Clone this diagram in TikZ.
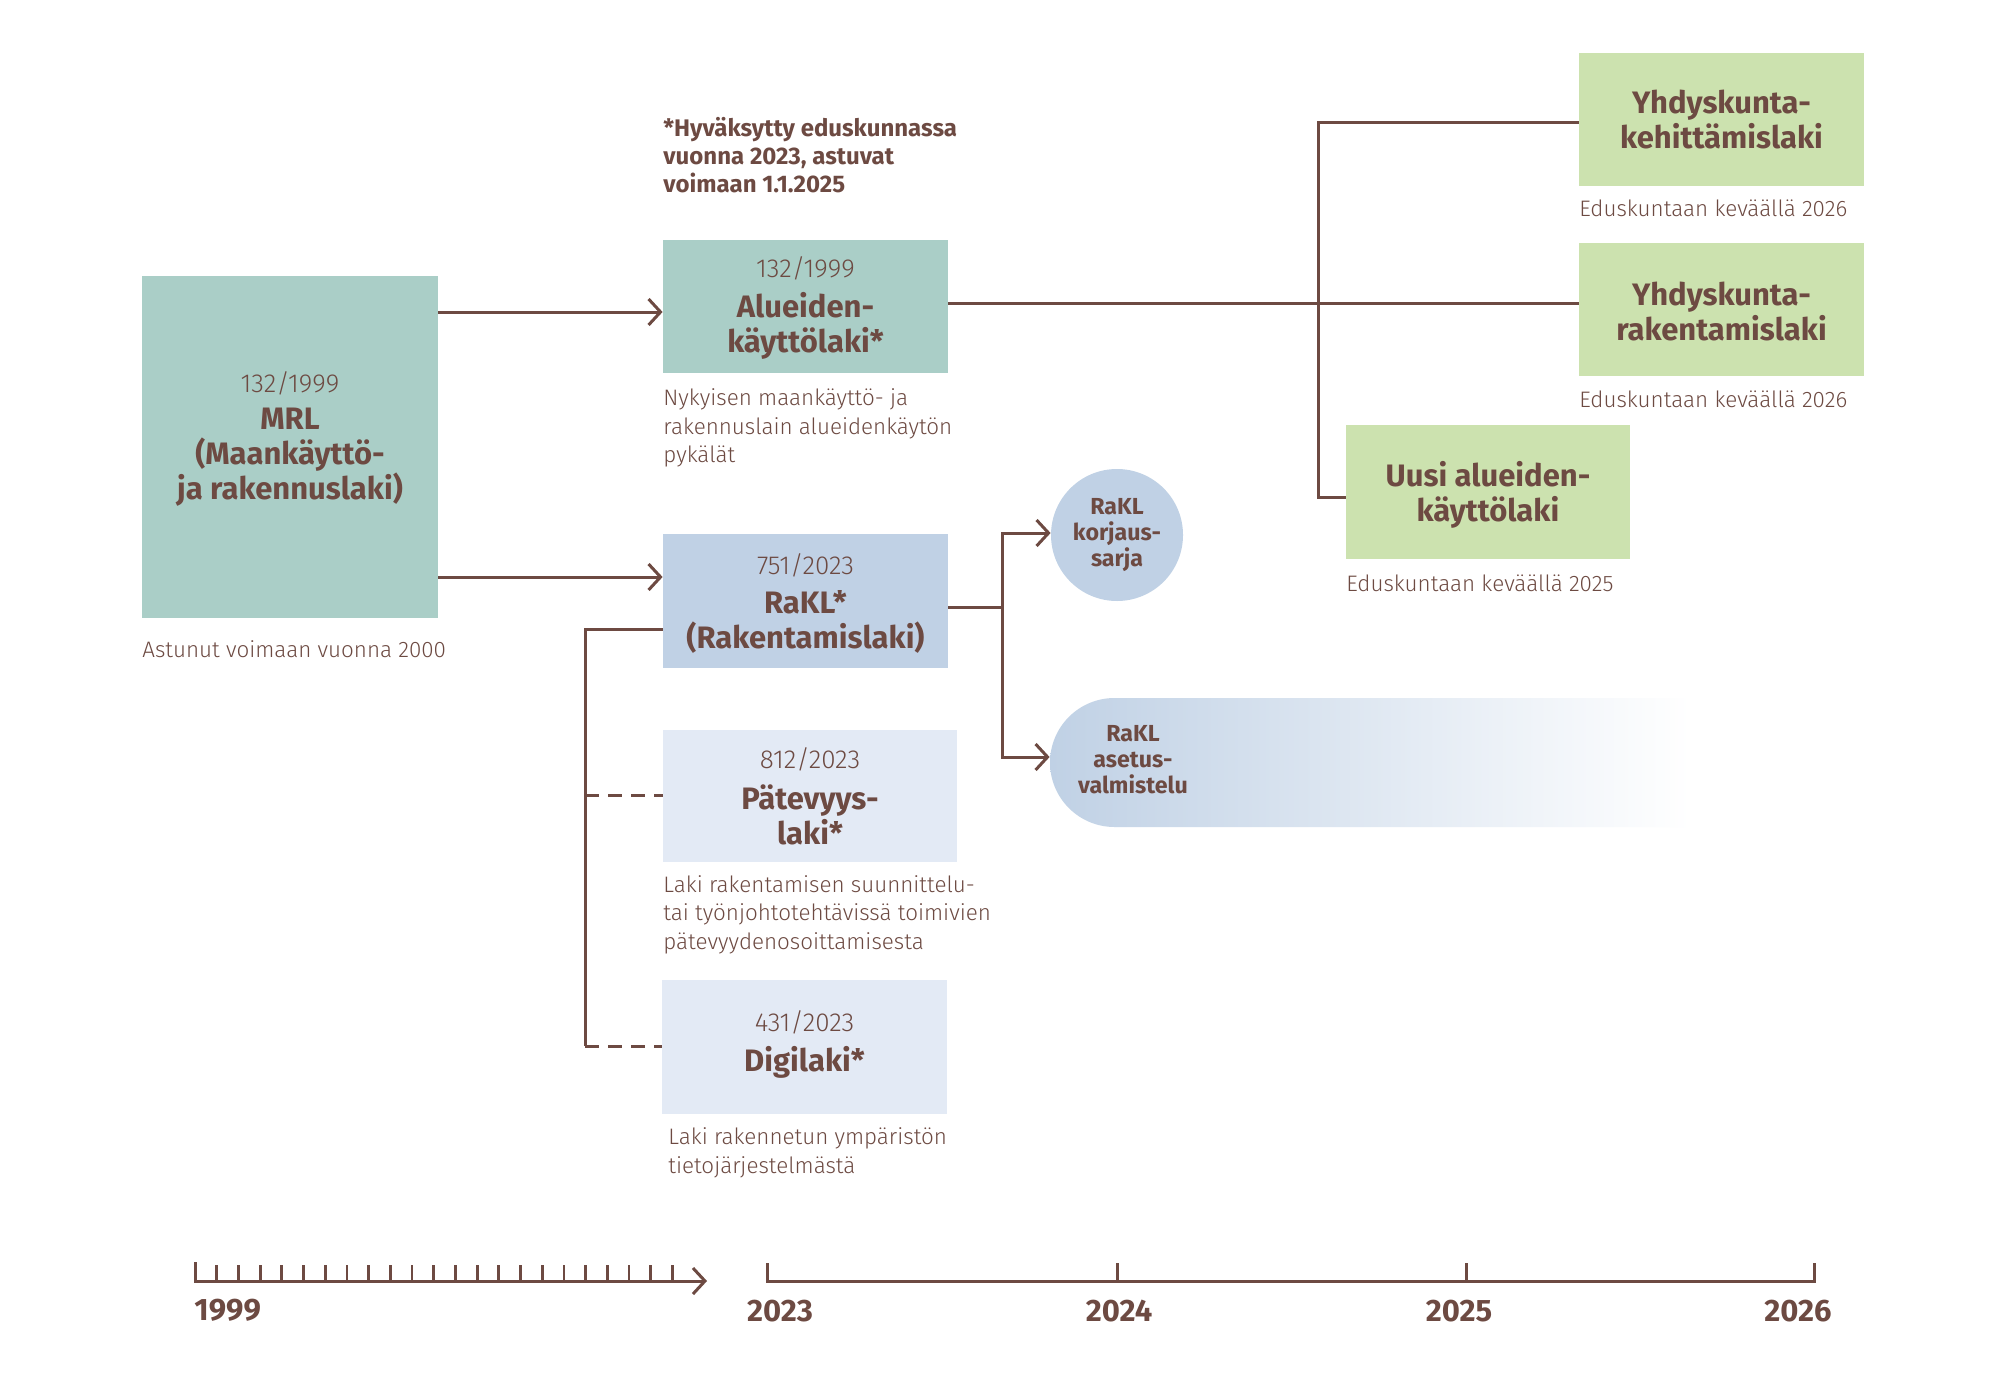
\documentclass[tikz,border=0pt]{standalone}
\usepackage{fontspec}
\setmainfont{Fira Sans}
\newfontfamily\lightfont{Fira Sans Light}
\usetikzlibrary{arrows.meta,shapes.misc}
\definecolor{brownA}{HTML}{6D4A42}
\definecolor{tealA}{HTML}{AACEC7}
\definecolor{blueA}{HTML}{C0D1E5}
\definecolor{paleA}{HTML}{E3EAF5}
\definecolor{greenA}{HTML}{CCE2AF}
\begin{document}
\begin{tikzpicture}[x=0.5pt,y=-0.5pt,
  every node/.style={text=brownA, inner sep=0pt},
  box/.style={rectangle, draw=none},
  titletext/.style={font=\fontsize{15.5}{17.5}\selectfont\bfseries, align=center},
  numtext/.style={font=\lightfont\fontsize{13}{15}\selectfont},
  desctext/.style={font=\lightfont\fontsize{11.2}{14.25}\selectfont, align=left, anchor=west},
  foottext/.style={font=\fontsize{12}{14}\selectfont\bfseries, align=left, anchor=west},
  smalltitle/.style={font=\fontsize{11.6}{13}\selectfont\bfseries, align=center},
  yeartext/.style={font=\fontsize{15.5}{17}\selectfont\bfseries},
  conn/.style={draw=brownA, line width=1.5pt},
  arr/.style={conn, -{Straight Barb[length=6pt,width=13pt]}},
  dashconn/.style={conn, dash pattern=on 7pt off 4.5pt},
  tick/.style={draw=brownA, line width=1.4pt}]
\useasboundingbox (0,0) rectangle (2000,1396);
\fill[white] (0,0) rectangle (2000,1396);

% boxes
\node[box, fill=tealA, minimum width=148pt, minimum height=171pt] (mrl) at (290,447) {};
\node[box, fill=tealA, minimum width=142.5pt, minimum height=66.5pt] (alue) at (805.5,306.5) {};
\node[box, fill=blueA, minimum width=142.5pt, minimum height=67pt] (rakl) at (805.5,601) {};
\node[box, fill=paleA, minimum width=147pt, minimum height=66pt] (pat) at (810,796) {};
\node[box, fill=paleA, minimum width=142.5pt, minimum height=67pt] (digi) at (804.5,1047) {};
\node[box, fill=greenA, minimum width=142.5pt, minimum height=66.5pt] (g1) at (1721.5,119.5) {};
\node[box, fill=greenA, minimum width=142.5pt, minimum height=66.5pt] (g2) at (1721.5,309.5) {};
\node[box, fill=greenA, minimum width=142pt, minimum height=67pt] (g3) at (1488,492) {};
\node[circle, fill=blueA, minimum size=66pt] (korj) at (1117,535) {};
\node[rounded rectangle, rounded rectangle right arc=none, left color=blueA, right color=white,
      minimum width=320pt, minimum height=64.5pt] (aset) at (1370,762.5) {};

% texts in boxes
\node[numtext] (mrlnum) at (290,383) {132/1999};
\node[titletext] (mrlt) at (290,457) {MRL\\(Maankäyttö-\\ja rakennuslaki)};
\node[numtext] (aluenum) at (805.5,268) {132/1999};
\node[titletext] (aluet) at (805.5,325.5) {Alueiden-\\käyttölaki*};
\node[numtext] (raklnum) at (805.5,565) {751/2023};
\node[titletext] (raklt) at (805.5,621.5) {RaKL*\\(Rakentamislaki)};
\node[numtext] (patnum) at (810,759) {812/2023};
\node[titletext] (patt) at (810,815) {Pätevyys-\\laki*};
\node[numtext] (diginum) at (804.5,1022) {431/2023};
\node[titletext] (digit) at (804.5,1062) {Digilaki*};
\node[titletext] (g1t) at (1721.5,120) {Yhdyskunta-\\kehittämislaki};
\node[titletext] (g2t) at (1721.5,311.5) {Yhdyskunta-\\rakentamislaki};
\node[titletext] (g3t) at (1488,495) {Uusi alueiden-\\käyttölaki};
\node[smalltitle] (korjt) at (1117,535) {RaKL\\korjaus-\\sarja};
\node[smalltitle] (asett) at (1133,760) {RaKL\\asetus-\\valmistelu};

% captions
\node[foottext] (note) at (663,155) {*Hyväksytty eduskunnassa\\vuonna 2023, astuvat\\voimaan 1.1.2025};
\node[desctext] (mrlcap) at (142,649) {Astunut voimaan vuonna 2000};
\node[desctext] (aluecap) at (663,428) {Nykyisen maankäyttö- ja\\rakennuslain alueidenkäytön\\pykälät};
\node[desctext] (patcap) at (663,914.5) {Laki rakentamisen suunnittelu-\\tai työnjohtotehtävissä toimivien\\pätevyydenosoittamisesta};
\node[desctext] (digicap) at (668,1153) {Laki rakennetun ympäristön\\tietojärjestelmästä};
\node[desctext] (g1cap) at (1579,208) {Eduskuntaan keväällä 2026};
\node[desctext] (g2cap) at (1579,399) {Eduskuntaan keväällä 2026};
\node[desctext] (g3cap) at (1346,583) {Eduskuntaan keväällä 2025};

% connector helper coordinates
\coordinate (yA) at (0,312);
\coordinate (yB) at (0,577);
\coordinate (yC) at (0,303);
\coordinate (tA) at (1318,123);
\coordinate (tB) at (1318,497);
\coordinate (yD) at (0,607);
\coordinate (bX) at (1002,607);
\coordinate (bA) at (1002,533);
\coordinate (bB) at (1002,757);
\coordinate (lA) at (585,629);
\coordinate (lB) at (585,795);
\coordinate (lC) at (585,1046);

% connectors
\draw[arr] (mrl.east |- yA) -- (alue.west |- yA);
\draw[arr] (mrl.east |- yB) -- (rakl.west |- yB);
\draw[conn] (alue.east |- yC) -- (g2.west |- yC);
\draw[conn] (g1.west |- tA) -- (tA) -- (tB) -- (g3.west |- tB);
\draw[conn] (rakl.east |- yD) -- (bX);
\draw[arr] (bX) -- (bA) -- (korj.west |- bA);
\draw[arr] (bX) -- (bB) -- (aset.west |- bB);
\draw[conn] (rakl.west |- lA) -- (lA) -- (lC);
\draw[dashconn] (lB) -- (pat.west |- lB);
\draw[dashconn] (lC) -- (digi.west |- lC);

% timeline
\draw[arr] (195,1262) -- (195,1281) -- (707,1281);
\foreach \i in {1,...,22} \draw[tick] ({195+21.7*\i},1265) -- ({195+21.7*\i},1281);
\draw[conn] (767,1263) -- (767,1281) -- (1814,1281) -- (1814,1263);
\draw[conn] (1117,1263) -- (1117,1281);
\draw[conn] (1466,1263) -- (1466,1281);
\node[yeartext, anchor=west] (y1999) at (194,1310) {1999};
\node[yeartext] (y2023) at (780,1311) {2023};
\node[yeartext] (y2024) at (1119,1311) {2024};
\node[yeartext] (y2025) at (1459,1311) {2025};
\node[yeartext] (y2026) at (1798,1311) {2026};
\end{tikzpicture}
\end{document}
